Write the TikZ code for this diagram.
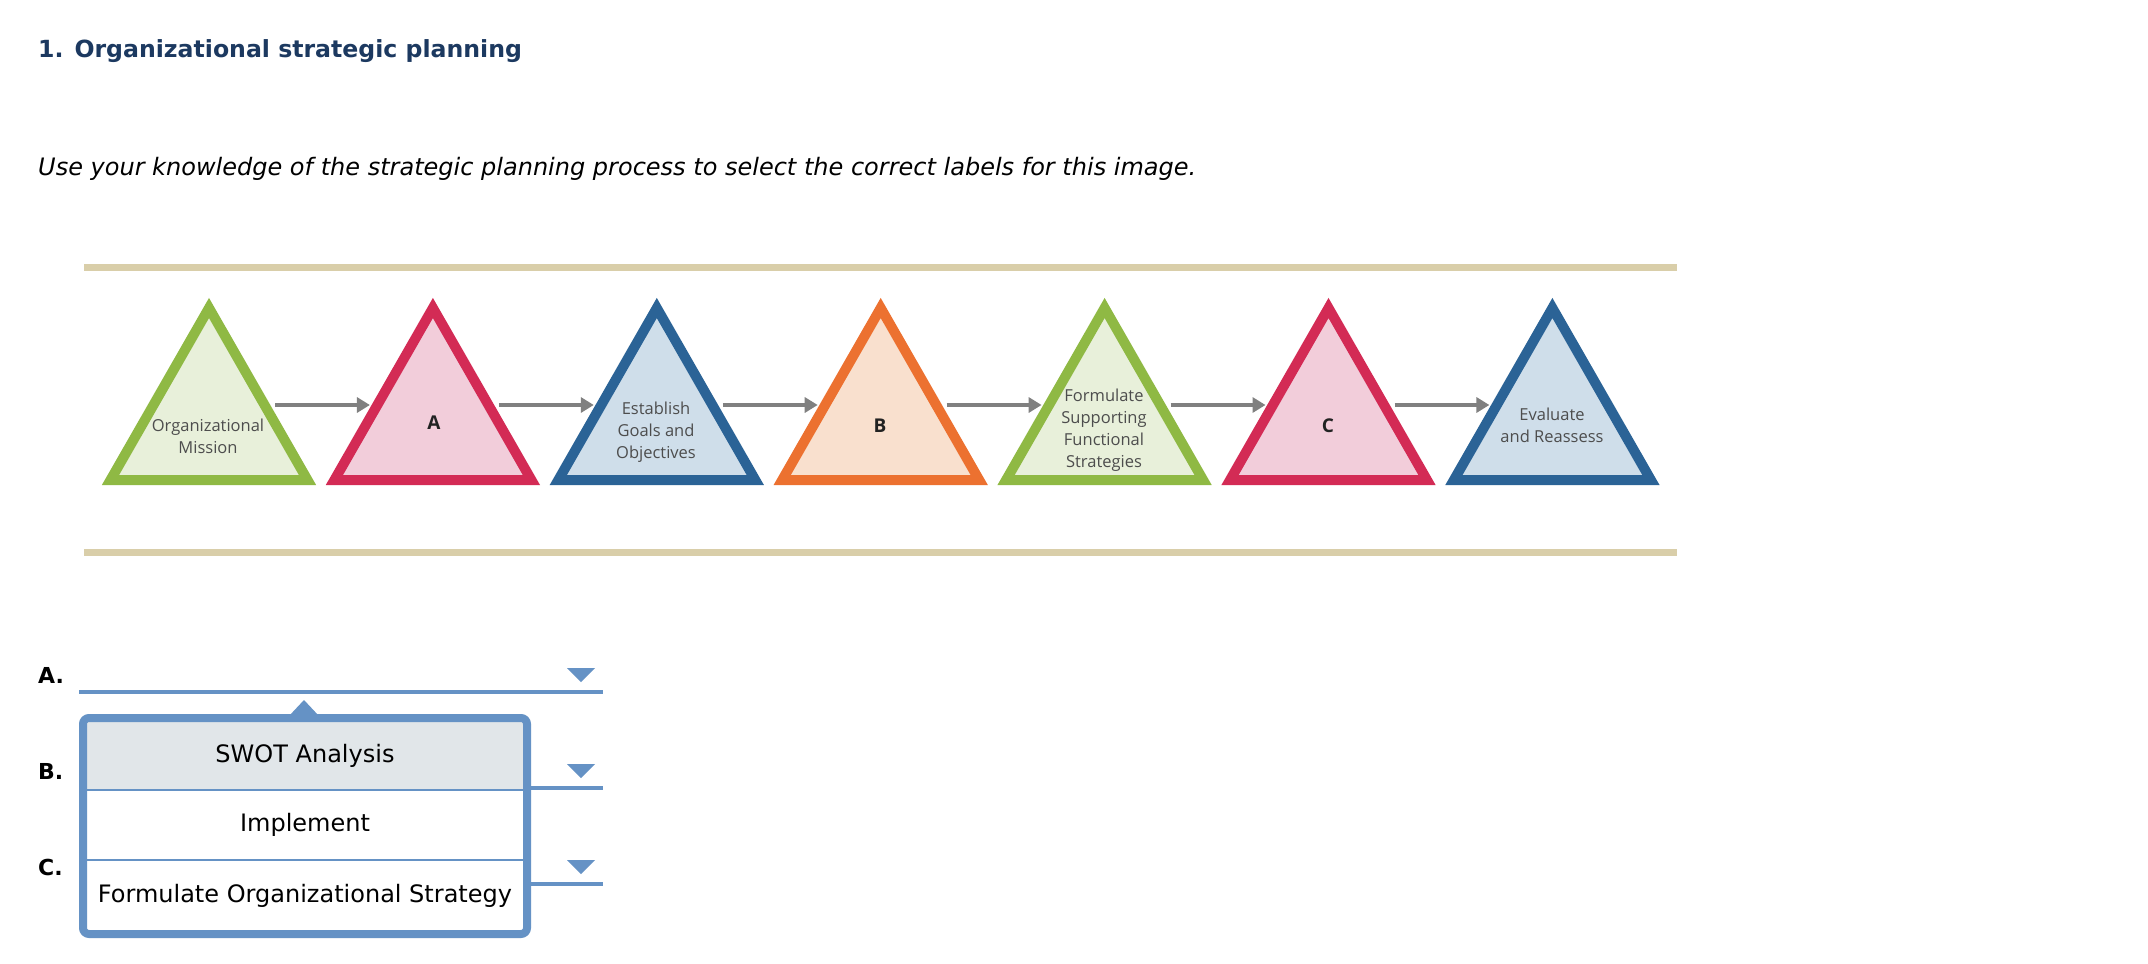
\documentclass[tikz,border=0pt]{standalone}
\usepackage{fontspec}
\setmainfont{DejaVu Sans}
\newfontfamily\osans{Open Sans}
\usetikzlibrary{arrows.meta}
\definecolor{navy}{HTML}{1C3960}
\definecolor{tanbar}{HTML}{D9CEA9}
\definecolor{gstroke}{HTML}{8FB944}
\definecolor{gfill}{HTML}{E8F0DA}
\definecolor{rstroke}{HTML}{D32B55}
\definecolor{rfill}{HTML}{F2CDDA}
\definecolor{bstroke}{HTML}{2B6396}
\definecolor{bfill}{HTML}{CFDEEA}
\definecolor{ostroke}{HTML}{EC7130}
\definecolor{ofill}{HTML}{F9E0CE}
\definecolor{arrowgray}{HTML}{808080}
\definecolor{ddblue}{HTML}{6592C5}
\definecolor{rowgray}{HTML}{E1E6E9}
\definecolor{tritext}{HTML}{4D4D4D}
\definecolor{darktext}{HTML}{222222}
\begin{document}
\begin{tikzpicture}[x=1pt,y=-1pt,
  tri/.style={line width=10pt, line join=miter},
  flow/.style={draw=arrowgray, line width=3.5pt, -{Triangle[length=13pt,width=15pt]}},
  trilabel/.style={text=tritext, align=center, inner sep=0pt, font=\osans\fontsize{16.5}{22}\selectfont},
  letterlabel/.style={text=darktext, inner sep=0pt, font=\osans\bfseries\fontsize{19}{22}\selectfont},
  qlabel/.style={anchor=west, inner sep=0pt, text=black, font=\bfseries\fontsize{22}{26}\selectfont},
  ddline/.style={draw=ddblue, line width=4pt},
  ddmark/.style={fill=ddblue},
  opt/.style={inner sep=0pt, text=black, font=\fontsize{24}{28}\selectfont},
  divider/.style={draw=ddblue, line width=2.5pt}
]
\useasboundingbox (0,0) rectangle (2148,964);
\fill[white] (0,0) rectangle (2148,964);

% header texts
\node[anchor=base west, inner sep=0pt, text=navy, font=\bfseries\fontsize{23.6}{28}\selectfont] (title) at (38,57.5) {1. Organizational strategic planning};
\node[anchor=base west, inner sep=0pt, text=black, font=\itshape\fontsize{24}{28}\selectfont] (instr) at (38,175.5) {Use your knowledge of the strategic planning process to select the correct labels for this image.};

% tan bars
\fill[tanbar] (84,264) rectangle (1677,271);
\fill[tanbar] (84,549) rectangle (1677,556);

% triangles
\foreach \i/\cx/\sc/\fc in {1/209/gstroke/gfill, 2/432.9/rstroke/rfill, 3/656.8/bstroke/bfill, 4/880.7/ostroke/ofill, 5/1104.6/gstroke/gfill, 6/1328.5/rstroke/rfill, 7/1552.4/bstroke/bfill}{
  \draw[tri, draw=\sc, fill=\fc] (\cx,308) -- (\cx+98.5,480) -- (\cx-98.5,480) -- cycle;
  \coordinate (tl\i) at (\cx-63,405);
  \coordinate (tr\i) at (\cx+66,405);
}
\foreach \a/\b in {1/2,2/3,3/4,4/5,5/6,6/7}{
  \draw[flow] (tr\a) -- (tl\b);
}

\node[trilabel] (lab1) at (208,436) {Organizational\\Mission};
\node[letterlabel] (lab2) at (434,423) {A};
\node[trilabel] (lab3) at (656,432) {Establish\\Goals and\\Objectives};
\node[letterlabel] (lab4) at (880,426) {B};
\node[trilabel] (lab5) at (1104,430) {Formulate\\Supporting\\Functional\\Strategies};
\node[letterlabel] (lab6) at (1328,426) {C};
\node[trilabel] (lab7) at (1552,425.5) {Evaluate\\and Reassess};

% question labels and lines
\node[qlabel] (qa) at (38,675) {A.};
\node[qlabel] (qb) at (38,771) {B.};
\node[qlabel] (qc) at (38,867) {C.};
\draw[ddline] (79,692) -- (603,692);
\draw[ddline] (79,788) -- (603,788);
\draw[ddline] (79,884) -- (603,884);
\fill[ddmark] (567,668) -- (595,668) -- (581,682) -- cycle;
\fill[ddmark] (567,764) -- (595,764) -- (581,778) -- cycle;
\fill[ddmark] (567,860) -- (595,860) -- (581,874) -- cycle;

% popup list
\fill[white, rounded corners=6pt] (83,718) rectangle (527,934);
\fill[rowgray] (87,722) rectangle (523,790);
\draw[divider] (87,790) -- (523,790);
\draw[divider] (87,860) -- (523,860);
\draw[draw=ddblue, line width=8pt, rounded corners=6pt] (83,718) rectangle (527,934);
\fill[ddblue] (289,716) -- (304,700) -- (319,716) -- cycle;
\node[opt] (o1) at (305,756) {SWOT Analysis};
\node[opt] (o2) at (305,825) {Implement};
\node[opt] (o3) at (305,896) {Formulate Organizational Strategy};
\end{tikzpicture}
\end{document}
